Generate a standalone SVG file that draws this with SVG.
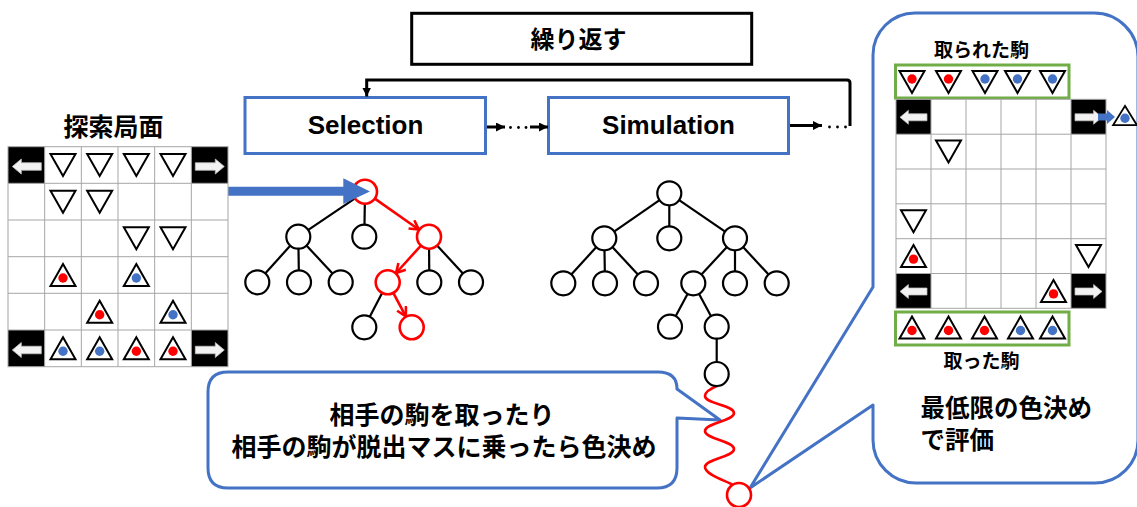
<svg xmlns="http://www.w3.org/2000/svg" xmlns:xlink="http://www.w3.org/1999/xlink" width="1137" height="507" viewBox="0 0 1137 507">
<style>
.grid{stroke:#a6a6a6;stroke-width:1;fill:none}
.blk{fill:#000}
.warr{fill:#f2f2f2;stroke:#bfbfbf;stroke-width:0.8}
.tri{fill:#fff;stroke:#000;stroke-width:2}
.rd{fill:#ff0000}
.bd{fill:#4472c4}
.node{fill:#fff;stroke:#000;stroke-width:2.2}
.rnode{fill:#fff;stroke:#ff0000;stroke-width:2.6}
.edge{stroke:#000;stroke-width:2.2;fill:none}
.redge{stroke:#ff0000;stroke-width:2.6;fill:none}
.flow{stroke:#000;stroke-width:3;fill:none}
.bbox{fill:#fff;stroke:#4472c4;stroke-width:3}
.gbox{fill:#fff;stroke:#70ad47;stroke-width:3}
.callout{fill:#fff;stroke:#4472c4;stroke-width:3;stroke-linejoin:round}
.jp{font-family:"Noto Sans CJK JP","Noto Sans CJK SC",sans-serif;font-weight:bold;fill:#000}
.en{font-family:"Liberation Sans",Arial,sans-serif;font-weight:bold;fill:#000}
</style>
<defs>
<path id="dn" d="M-12.5,-11 L12.5,-11 L0,11 Z"/>
<path id="up" d="M0,-11 L12.5,11 L-12.5,11 Z"/>
<path id="la" d="M-14.5,0 L-5.5,-7.5 L-5.5,-3.75 L14.5,-3.75 L14.5,3.75 L-5.5,3.75 L-5.5,7.5 Z"/>
<path id="ra" d="M14.5,0 L5.5,-7.5 L5.5,-3.75 L-14.5,-3.75 L-14.5,3.75 L5.5,3.75 L5.5,7.5 Z"/>
<marker id="ah" markerUnits="userSpaceOnUse" markerWidth="10" markerHeight="10" refX="9" refY="4.5" orient="auto">
<path d="M0,0 L9,4.5 L0,9 Z" fill="#000"/>
</marker>
<marker id="rh" markerUnits="userSpaceOnUse" markerWidth="14" markerHeight="14" refX="10" refY="6" orient="auto">
<path d="M1,1 L10,6 L1,11" fill="none" stroke="#ff0000" stroke-width="2.6"/>
</marker>
</defs>
<rect x="0" y="0" width="1137" height="507" fill="#fff"/>

<!-- callouts -->
<g id="callout-right">
<path class="callout" d="M915,13 H1094 A44,44 0 0 1 1138,57 V440 A43,43 0 0 1 1095,483 H916 A43,43 0 0 1 873,440 V405 L750,488 L873,287 V55 A42,42 0 0 1 915,13 Z"/>
<text class="jp" x="920.5" y="416.5" font-size="24.5">最低限の色決め</text>
<text class="jp" x="920.5" y="449" font-size="24.5">で評価</text>
</g>
<g id="callout-left">
<path class="callout" d="M228,372 H658 Q677,372 677,389 L720,420 L677,418 V468 Q677,488 657,488 H228 Q208,488 208,468 V392 Q208,372 228,372 Z"/>
<text class="jp" x="442" y="423.5" font-size="25" text-anchor="middle">相手の駒を取ったり</text>
<text class="jp" x="444" y="456" font-size="25" text-anchor="middle">相手の駒が脱出マスに乗ったら色決め</text>
</g>

<!-- top flow -->
<g id="repeat">
<rect x="411.7" y="13.3" width="340" height="51" fill="#fff" stroke="#000" stroke-width="3"/>
<text class="jp" x="578.5" y="48" font-size="24" text-anchor="middle">繰り返す</text>
</g>
<g id="selection">
<rect class="bbox" x="245" y="97.5" width="240.5" height="56"/>
<text class="en" x="365.5" y="134" font-size="26" text-anchor="middle">Selection</text>
</g>
<g id="simulation">
<rect class="bbox" x="548.5" y="97.5" width="240" height="56"/>
<text class="en" x="668.5" y="134" font-size="26" text-anchor="middle">Simulation</text>
</g>

<g id="connectors">
<line class="flow" x1="487" y1="127" x2="505" y2="127" marker-end="url(#ah)"/>
<circle cx="510.5" cy="127.5" r="1.4"/><circle cx="518.5" cy="127.5" r="1.4"/><circle cx="526" cy="127.5" r="1.4"/>
<line class="flow" x1="530" y1="127" x2="548" y2="127" marker-end="url(#ah)"/>
<line class="flow" x1="790" y1="125.5" x2="822" y2="125.5" marker-end="url(#ah)"/>
<circle cx="829.5" cy="127" r="1.4"/><circle cx="837.5" cy="127" r="1.4"/><circle cx="845.5" cy="127" r="1.4"/>
<path class="flow" d="M850,126 V83 Q850,80 847,80 H366.7 V96.5" marker-end="url(#ah)"/>
<!-- selection tree edges -->
<line class="edge" x1="365" y1="191.7" x2="298.3" y2="236.7"/>
<line class="edge" x1="365" y1="191.7" x2="364.3" y2="236.7"/>
<line class="edge" x1="298.3" y1="236.7" x2="257.3" y2="282.3"/>
<line class="edge" x1="298.3" y1="236.7" x2="299" y2="282.3"/>
<line class="edge" x1="298.3" y1="236.7" x2="340.7" y2="282.3"/>
<line class="edge" x1="429" y1="236.7" x2="429.3" y2="282.3"/>
<line class="edge" x1="429" y1="236.7" x2="471" y2="282.3"/>
<line class="edge" x1="387.7" y1="282.3" x2="364.3" y2="327.3"/>
<line class="redge" x1="374.8" y1="198.6" x2="418.8" y2="229.5" marker-end="url(#rh)"/>
<line class="redge" x1="420.9" y1="245.6" x2="396.1" y2="273" marker-end="url(#rh)"/>
<line class="redge" x1="393.3" y1="292.9" x2="405.8" y2="316.3" marker-end="url(#rh)"/>
<!-- simulation tree edges -->
<line class="edge" x1="669.3" y1="193.3" x2="604.3" y2="238.3"/>
<line class="edge" x1="669.3" y1="193.3" x2="669.3" y2="238.3"/>
<line class="edge" x1="669.3" y1="193.3" x2="735" y2="238.3"/>
<line class="edge" x1="604.3" y1="238.3" x2="563.3" y2="283.3"/>
<line class="edge" x1="604.3" y1="238.3" x2="605" y2="283.3"/>
<line class="edge" x1="604.3" y1="238.3" x2="646" y2="283.3"/>
<line class="edge" x1="735" y1="238.3" x2="693.3" y2="283.3"/>
<line class="edge" x1="735" y1="238.3" x2="735" y2="283.3"/>
<line class="edge" x1="735" y1="238.3" x2="776.7" y2="283.3"/>
<line class="edge" x1="693.3" y1="283.3" x2="670" y2="326.7"/>
<line class="edge" x1="693.3" y1="283.3" x2="716.7" y2="326.7"/>
<line class="edge" x1="716.7" y1="326.7" x2="716.7" y2="374"/>
<path class="redge" d="M717,386 C712,388 705,391 705,396 C705,404 734,405 734,413 C734,421 705,423 705,431 C705,439 734,441 734,449 C734,457 705,459 705,467 C705,475 727,481 733,485"/>
</g>

<!-- selection tree nodes -->
<g id="sel-tree">
<circle class="node" cx="298.3" cy="236.7" r="12"/>
<circle class="node" cx="364.3" cy="236.7" r="12"/>
<circle class="rnode" cx="429" cy="236.7" r="12"/>
<circle class="node" cx="257.3" cy="282.3" r="12"/>
<circle class="node" cx="299" cy="282.3" r="12"/>
<circle class="node" cx="340.7" cy="282.3" r="12"/>
<circle class="rnode" cx="387.7" cy="282.3" r="12"/>
<circle class="node" cx="429.3" cy="282.3" r="12"/>
<circle class="node" cx="471" cy="282.3" r="12"/>
<circle class="node" cx="364.3" cy="327.3" r="12"/>
<circle class="rnode" cx="411.7" cy="327.3" r="12"/>
<circle class="rnode" cx="365" cy="191.7" r="12"/>
</g>
<g id="sim-tree">
<circle class="node" cx="669.3" cy="193.3" r="12"/>
<circle class="node" cx="604.3" cy="238.3" r="12"/>
<circle class="node" cx="669.3" cy="238.3" r="12"/>
<circle class="node" cx="735" cy="238.3" r="12"/>
<circle class="node" cx="563.3" cy="283.3" r="12"/>
<circle class="node" cx="605" cy="283.3" r="12"/>
<circle class="node" cx="646" cy="283.3" r="12"/>
<circle class="node" cx="693.3" cy="283.3" r="12"/>
<circle class="node" cx="735" cy="283.3" r="12"/>
<circle class="node" cx="776.7" cy="283.3" r="12"/>
<circle class="node" cx="670" cy="326.7" r="12"/>
<circle class="node" cx="716.7" cy="326.7" r="12"/>
<circle class="node" cx="716.7" cy="374" r="12"/>
<circle class="rnode" cx="739" cy="495" r="12"/>
</g>

<!-- big blue arrow -->
<g id="input-arrow">
<path fill="#4472c4" d="M228,186.7 H343.3 V178.3 L370,191.5 L343.3,204 V195.7 H228 Z"/>
</g>

<!-- left board -->
<g id="board-left">
<text class="jp" x="113.5" y="135.5" font-size="25" text-anchor="middle">探索局面</text>
<rect x="8" y="146.7" width="220" height="220" fill="#fff"/>
<rect class="blk" x="8" y="146.7" width="36.67" height="36.67"/>
<rect class="blk" x="191.33" y="146.7" width="36.67" height="36.67"/>
<rect class="blk" x="8" y="330" width="36.67" height="36.67"/>
<rect class="blk" x="191.33" y="330" width="36.67" height="36.67"/>
<path class="grid" d="M44.67,146.7V366.7M81.33,146.7V366.7M118,146.7V366.7M154.67,146.7V366.7M191.33,146.7V366.7M8,183.3H228M8,220H228M8,256.7H228M8,293.3H228M8,330H228"/>
<rect class="grid" x="8" y="146.7" width="220" height="220"/>
<use href="#la" class="warr" x="26.8" y="166.5"/>
<use href="#ra" class="warr" x="209.8" y="166.5"/>
<use href="#la" class="warr" x="26.8" y="350"/>
<use href="#ra" class="warr" x="209.8" y="350"/>
<use href="#dn" class="tri" x="63" y="165"/>
<use href="#dn" class="tri" x="99.67" y="165"/>
<use href="#dn" class="tri" x="136.33" y="165"/>
<use href="#dn" class="tri" x="173" y="165"/>
<use href="#dn" class="tri" x="63" y="201.7"/>
<use href="#dn" class="tri" x="99.67" y="201.7"/>
<use href="#dn" class="tri" x="136.33" y="238.3"/>
<use href="#dn" class="tri" x="173" y="238.3"/>
<use href="#up" class="tri" x="63" y="275"/><circle class="rd" cx="63" cy="278" r="4.7"/>
<use href="#up" class="tri" x="136.33" y="275"/><circle class="bd" cx="136.33" cy="278" r="4.7"/>
<use href="#up" class="tri" x="99.67" y="311.7"/><circle class="rd" cx="99.67" cy="314.7" r="4.7"/>
<use href="#up" class="tri" x="173" y="311.7"/><circle class="bd" cx="173" cy="314.7" r="4.7"/>
<use href="#up" class="tri" x="63" y="348.3"/><circle class="bd" cx="63" cy="351.3" r="4.7"/>
<use href="#up" class="tri" x="99.67" y="348.3"/><circle class="bd" cx="99.67" cy="351.3" r="4.7"/>
<use href="#up" class="tri" x="136.33" y="348.3"/><circle class="rd" cx="136.33" cy="351.3" r="4.7"/>
<use href="#up" class="tri" x="173" y="348.3"/><circle class="rd" cx="173" cy="351.3" r="4.7"/>
</g>

<!-- right board -->
<g id="captured-top">
<text class="jp" x="981.5" y="57.2" font-size="19" text-anchor="middle">取られた駒</text>
<rect class="gbox" x="895.5" y="65" width="173.5" height="33"/>
<use href="#dn" class="tri" x="912" y="82"/><circle class="rd" cx="912" cy="79" r="4.7"/>
<use href="#dn" class="tri" x="948.5" y="82"/><circle class="rd" cx="948.5" cy="79" r="4.7"/>
<use href="#dn" class="tri" x="985" y="82"/><circle class="bd" cx="985" cy="79" r="4.7"/>
<use href="#dn" class="tri" x="1017.5" y="82"/><circle class="bd" cx="1017.5" cy="79" r="4.7"/>
<use href="#dn" class="tri" x="1052.5" y="82"/><circle class="bd" cx="1052.5" cy="79" r="4.7"/>
</g>
<g id="board-right">
<rect x="896" y="99.3" width="210" height="209" fill="#fff"/>
<rect class="blk" x="896" y="99.3" width="35" height="34.9"/>
<rect class="blk" x="1071" y="99.3" width="35" height="34.9"/>
<rect class="blk" x="896" y="273.5" width="35" height="34.8"/>
<rect class="blk" x="1071" y="273.5" width="35" height="34.8"/>
<path class="grid" d="M931,99.3V308.3M966,99.3V308.3M1001,99.3V308.3M1036,99.3V308.3M1071,99.3V308.3M896,134.2H1106M896,169H1106M896,203.8H1106M896,238.7H1106M896,273.5H1106"/>
<rect class="grid" x="896" y="99.3" width="210" height="209"/>
<use href="#la" class="warr" transform="translate(913.5,117.3) scale(0.93)"/>
<use href="#ra" class="warr" transform="translate(1088.5,117.3) scale(0.93)"/>
<use href="#la" class="warr" transform="translate(913.5,291.5) scale(0.93)"/>
<use href="#ra" class="warr" transform="translate(1088.5,291.5) scale(0.93)"/>
<use href="#dn" class="tri" x="948.5" y="151.6"/>
<use href="#dn" class="tri" x="913.5" y="221.3"/>
<use href="#up" class="tri" x="913.5" y="256.1"/><circle class="rd" cx="913.5" cy="259.1" r="4.7"/>
<use href="#dn" class="tri" x="1088.5" y="256.1"/>
<use href="#up" class="tri" x="1053.5" y="290.9"/><circle class="rd" cx="1053.5" cy="293.9" r="4.7"/>
<path fill="#4472c4" d="M1098,113.5 H1107 V110 L1115,117 L1107,124 V120.5 H1098 Z"/>
<use href="#up" class="tri" transform="translate(1125,115.5) scale(0.95,0.87)"/><circle class="bd" cx="1125" cy="118.3" r="4.7"/>
</g>
<g id="captured-bottom">
<rect class="gbox" x="895.5" y="312" width="173.5" height="33"/>
<use href="#up" class="tri" x="912" y="327.5"/><circle class="rd" cx="912" cy="330.5" r="4.7"/>
<use href="#up" class="tri" x="948.5" y="327.5"/><circle class="rd" cx="948.5" cy="330.5" r="4.7"/>
<use href="#up" class="tri" x="984.5" y="327.5"/><circle class="rd" cx="984.5" cy="330.5" r="4.7"/>
<use href="#up" class="tri" x="1020.5" y="327.5"/><circle class="bd" cx="1020.5" cy="330.5" r="4.7"/>
<use href="#up" class="tri" x="1052.5" y="327.5"/><circle class="bd" cx="1052.5" cy="330.5" r="4.7"/>
<text class="jp" x="981.5" y="368" font-size="19" text-anchor="middle">取った駒</text>
</g>
</svg>
